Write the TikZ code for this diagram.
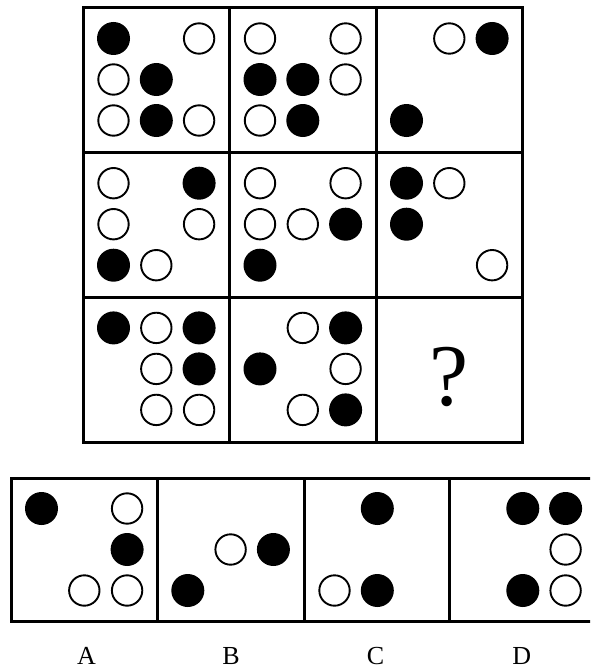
\documentclass[tikz,border=0pt]{standalone}
\usepackage{fontspec}
\setmainfont{Liberation Serif}
\tikzset{
  gridline/.style={line width=3pt, line cap=rect},
  dotB/.style={fill=black},
  dotW/.style={draw=black, line width=1.9pt, fill=white},
  qmark/.style={inner sep=0pt, font=\fontsize{88}{88}\selectfont},
  optlabel/.style={inner sep=0pt, anchor=base, font=\fontsize{26}{26}\selectfont}
}
\newcommand\pcell[3]{%
  \foreach \c/\r/\t in {#3}{%
    \if\t B
      \path[dotB] ({#1+30.5+42.8*(\c-1)},{#2+30.5+41*(\r-1)}) circle[radius=16.5pt];
    \else
      \path[dotW] ({#1+30.5+42.8*(\c-1)},{#2+30.5+41*(\r-1)}) circle[radius=15.2pt];
    \fi
  }%
}
\begin{document}
\begin{tikzpicture}[x=1pt,y=-1pt]
\useasboundingbox (0,0) rectangle (590,669);
\clip (0,0) rectangle (590,669);
% top grid
\draw[gridline] (83,8) rectangle (522.5,442);
\draw[gridline] (229.5,8) -- (229.5,442);
\draw[gridline] (376,8) -- (376,442);
\draw[gridline] (83,152.7) -- (522.5,152.7);
\draw[gridline] (83,297.4) -- (522.5,297.4);
% row 1
\pcell{83}{8}{1/1/B,3/1/W,1/2/W,2/2/B,1/3/W,2/3/B,3/3/W}
\pcell{229.5}{8}{1/1/W,3/1/W,1/2/B,2/2/B,3/2/W,1/3/W,2/3/B}
\pcell{376}{8}{2/1/W,3/1/B,1/3/B}
% row 2
\pcell{83}{152.7}{1/1/W,3/1/B,1/2/W,3/2/W,1/3/B,2/3/W}
\pcell{229.5}{152.7}{1/1/W,3/1/W,1/2/W,2/2/W,3/2/B,1/3/B}
\pcell{376}{152.7}{1/1/B,2/1/W,1/2/B,3/3/W}
% row 3
\pcell{83}{297.4}{1/1/B,2/1/W,3/1/B,2/2/W,3/2/B,2/3/W,3/3/W}
\pcell{229.5}{297.4}{2/1/W,3/1/B,1/2/B,3/2/W,2/3/W,3/3/B}
\node[qmark] (q) at (449,377) {?};
% options
\draw[gridline] (11,478) rectangle (595,621.5);
\draw[gridline] (157.3,478) -- (157.3,621.5);
\draw[gridline] (304,478) -- (304,621.5);
\draw[gridline] (449.5,478) -- (449.5,621.5);
\pcell{11}{478}{1/1/B,3/1/W,3/2/B,2/3/W,3/3/W}
\pcell{157.3}{478}{2/2/W,3/2/B,1/3/B}
\pcell{304}{478}{2/1/B,1/3/W,2/3/B}
\pcell{449.5}{478}{2/1/B,3/1/B,3/2/W,2/3/B,3/3/W}
\node[optlabel] (la) at (86.5,664.5) {A};
\node[optlabel] (lb) at (231,664.5) {B};
\node[optlabel] (lc) at (375.5,664.5) {C};
\node[optlabel] (ld) at (521.7,664.5) {D};
\end{tikzpicture}
\end{document}
